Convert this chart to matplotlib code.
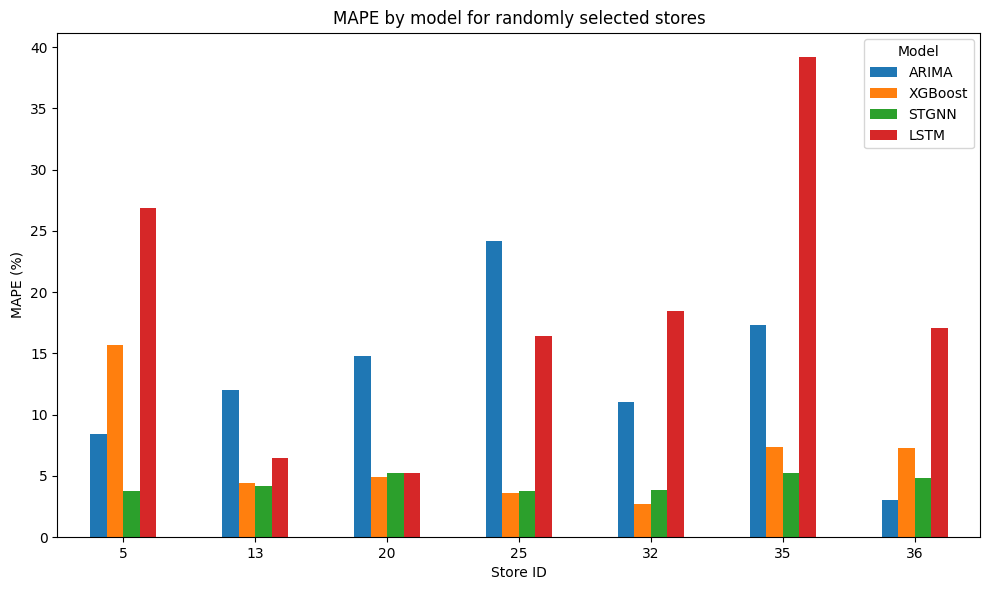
import pandas as pd
import matplotlib.pyplot as plt

# MAPE (%) per store for each model
stores = ["5", "13", "20", "25", "32", "35", "36"]
arima = [8.4, 12.0, 14.76, 24.14, 11.0, 17.29, 3.02]
xgboost = [15.66, 4.4, 4.89, 3.59, 2.69, 7.34, 7.26]
stgnn = [3.75, 4.16, 5.22, 3.75, 3.83, 5.22, 4.81]
lstm = [26.84, 6.44, 5.22, 16.39, 18.43, 39.23, 17.05]

df = pd.DataFrame(
  {"ARIMA": arima, "XGBoost": xgboost, "STGNN": stgnn, "LSTM": lstm},
  index=stores)
df.columns.name = "Model"

fig, ax = plt.subplots(figsize=(9.89, 5.9), dpi=100)
df.plot(kind="bar", ax=ax, rot=0)

ax.set_title("MAPE by model for randomly selected stores")
ax.set_xlabel("Store ID")
ax.set_ylabel("MAPE (%)")
ax.legend(title="Model", loc="upper right")

# Match the margins of the original layout
fig.subplots_adjust(left=0.0581, right=0.9914, top=0.9449, bottom=0.0898)
plt.savefig("out.png")
